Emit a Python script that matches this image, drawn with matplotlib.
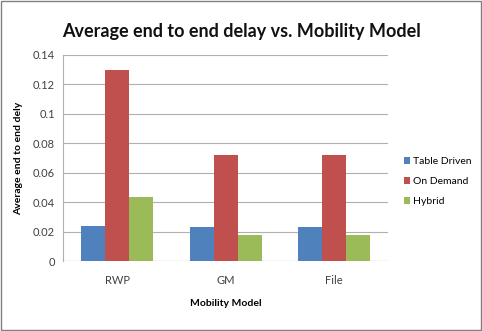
import matplotlib.pyplot as plt
import numpy as np

models = ['RWP', 'GM', 'File']
table_driven = [0.0238, 0.0235, 0.0235]
on_demand = [0.130, 0.0722, 0.0722]
hybrid = [0.0435, 0.0178, 0.0178]
series = [('Table Driven', table_driven, '#4F81BD'),
          ('On Demand', on_demand, '#C0504D'),
          ('Hybrid', hybrid, '#9BBB59')]

plt.rcParams['font.family'] = ['Lato', 'DejaVu Sans']

fig = plt.figure(figsize=(4.82, 3.31), dpi=100)
ax = fig.add_axes([0.131, 0.211, 0.674, 0.623])

x = np.arange(len(models))
w = 0.222
for i, (name, vals, col) in enumerate(series):
    ax.bar(x + (i - 1) * w, vals, w, color=col, label=name, zorder=3)

ax.set_xlim(-0.5, 2.5)
ax.set_ylim(0, 0.14)
ax.set_yticks(np.arange(0, 0.141, 0.02))
ax.set_yticklabels(['0', '0.02', '0.04', '0.06', '0.08', '0.1', '0.12', '0.14'])
ax.set_xticks(x)
ax.set_xticklabels(models)
ax.tick_params(axis='both', labelsize=8, length=0, colors='#404040')
ax.tick_params(axis='x', pad=10)
ax.tick_params(axis='y', pad=6)
ax.grid(axis='y', color='#b0b0b0', linewidth=0.8, zorder=0)
for s in ['top', 'right', 'bottom']:
    ax.spines[s].set_visible(False)
ax.spines['left'].set_color('#b0b0b0')
ax.axhline(0, color='#b0b0b0', linewidth=0.8, zorder=2)

ax.set_ylabel('Average end to end dely', fontsize=7.5, fontweight='bold', labelpad=7)
ax.set_xlabel('Mobility Model', fontsize=7.5, fontweight='bold', labelpad=9)
fig.text(0.5, 0.905, 'Average end to end delay vs. Mobility Model',
         ha='center', va='center', fontsize=13, fontweight='bold', color='#111111')

ax.legend(loc='center left', bbox_to_anchor=(1.02, 0.385), frameon=False,
          fontsize=7.5, handlelength=0.6, handleheight=0.6, handletextpad=0.3,
          labelspacing=1.05)

fig.patches.append(plt.Rectangle((0.002, 0.003), 0.995, 0.994, transform=fig.transFigure,
                                 fill=False, edgecolor='#808080', linewidth=1))

fig.savefig('out.png', dpi=100)
